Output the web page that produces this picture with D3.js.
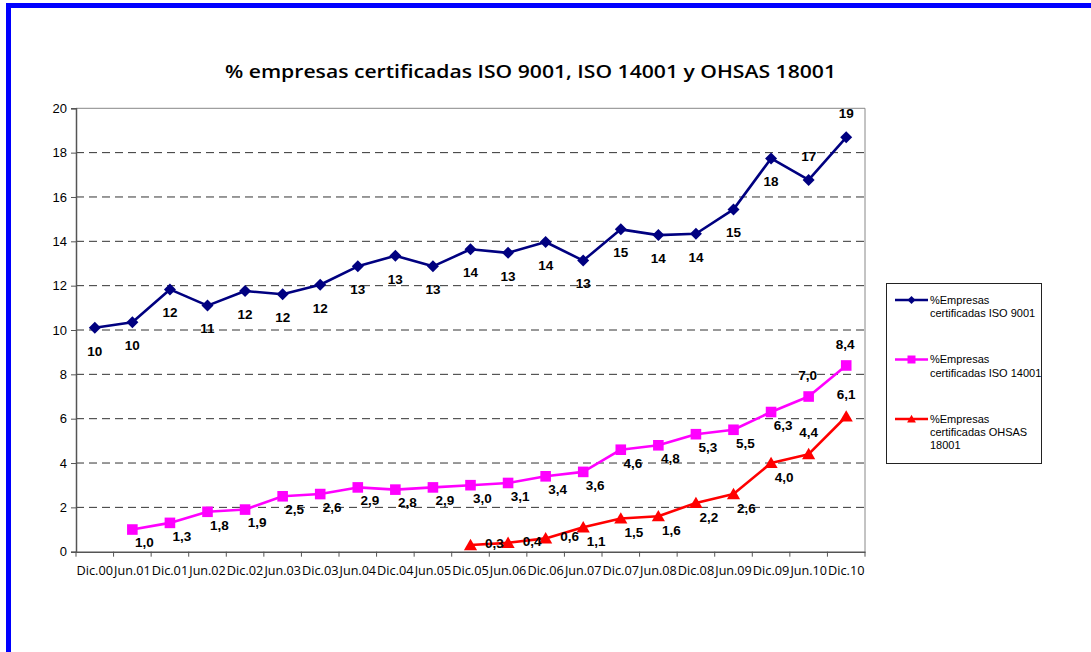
<!DOCTYPE html>
<html>
<head>
<meta charset="utf-8">
<script src="https://cdn.jsdelivr.net/npm/d3@7"></script>
<style>
  html, body { margin: 0; padding: 0; background: #fff; }
  svg { display: block; }
</style>
</head>
<body>
<svg id="chart" width="1091" height="652"></svg>
<script>
// ---- DATA ----
const categories = ["Dic.00","Jun.01","Dic.01","Jun.02","Dic.02","Jun.03","Dic.03","Jun.04","Dic.04","Jun.05",
                    "Dic.05","Jun.06","Dic.06","Jun.07","Dic.07","Jun.08","Dic.08","Jun.09","Dic.09","Jun.10","Dic.10"];
const iso9001Values = [10.1, 10.35, 11.83, 11.1, 11.76, 11.61, 12.04, 12.87, 13.35, 12.87,
                       13.64, 13.48, 13.97, 13.13, 14.54, 14.28, 14.34, 15.44, 17.74, 16.77, 18.69];
const iso9001Start = 0;
const iso14001Values = [1.0, 1.3, 1.8, 1.9, 2.5, 2.6, 2.9, 2.8, 2.9, 3.0, 3.1, 3.4, 3.6, 4.6, 4.8, 5.3, 5.5, 6.3, 7.0, 8.4];
const iso14001Start = 1;
const ohsasValues = [0.3, 0.4, 0.6, 1.1, 1.5, 1.6, 2.2, 2.6, 4.0, 4.4, 6.1];
const ohsasStart = 10;
const yTicks = [0, 2, 4, 6, 8, 10, 12, 14, 16, 18, 20];
const titleText = "% empresas certificadas ISO 9001, ISO 14001 y OHSAS 18001";
const legendLabels = [["%Empresas", "certificadas ISO 9001"], ["%Empresas", "certificadas ISO 14001"], ["%Empresas", "certificadas OHSAS", "18001"]];
// label placement flags (category names whose label sits above the point)
const iso9001Above = ["Jun.10", "Dic.10"];
const iso14001Above = ["Jun.10", "Dic.10"];
const ohsasAbove = ["Jun.10", "Dic.10"];

// ---- SETUP ----
const svg = d3.select("#chart");
const plot = { left: 76, right: 865, top: 108.3, bottom: 551.7 };

const x = d3.scaleBand().domain(categories).range([plot.left, plot.right]).padding(0);
const y = d3.scaleLinear().domain([0, 20]).range([plot.bottom, plot.top]);
const cx = c => x(c) + x.bandwidth() / 2;

const locale = d3.formatLocale({ decimal: ",", thousands: ".", grouping: [3], currency: ["", "€"] });
const fmt1 = locale.format(".1f");
const fmt0 = locale.format(".0f");

// blue frame
svg.append("rect").attr("x", 8.5).attr("y", 5.5).attr("width", 1200).attr("height", 1000)
  .attr("fill", "none").attr("stroke", "#0000ff").attr("stroke-width", 5);

// title
svg.append("text").attr("x", 530.5).attr("y", 78).attr("text-anchor", "middle")
  .attr("font-family", "'Open Sans', sans-serif").attr("font-weight", 600).attr("font-size", 17.5)
  .attr("textLength", 611).attr("lengthAdjust", "spacingAndGlyphs")
  .text(titleText);

// gridlines
svg.append("g").selectAll("line").data(yTicks.filter(t => t > 0 && t < 20)).join("line")
  .attr("x1", plot.left).attr("x2", plot.right)
  .attr("y1", d => y(d)).attr("y2", d => y(d))
  .attr("stroke", "#333").attr("stroke-width", 1).attr("stroke-dasharray", "8,5");

// top & right border
svg.append("line").attr("x1", plot.left).attr("x2", plot.right).attr("y1", plot.top).attr("y2", plot.top)
  .attr("stroke", "#888").attr("stroke-width", 1);
svg.append("line").attr("x1", plot.right).attr("x2", plot.right).attr("y1", plot.top).attr("y2", plot.bottom)
  .attr("stroke", "#888").attr("stroke-width", 1);

// y axis
const yAxis = d3.axisLeft(y).tickValues(yTicks).tickSize(5).tickPadding(4).tickFormat(d3.format("d"));
const gy = svg.append("g").attr("transform", `translate(${plot.left},0)`).call(yAxis);
gy.select(".domain").attr("stroke", "#555").attr("stroke-width", 1.5);
gy.selectAll(".tick line").attr("stroke", "#555");
gy.selectAll(".tick text").attr("font-family", "'Liberation Sans', Arial, sans-serif").attr("font-size", 13).attr("fill", "#000");

// x axis
const xAxis = d3.axisBottom(x).tickSize(0).tickPadding(15);
const gx = svg.append("g").attr("transform", `translate(0,${plot.bottom})`).call(xAxis);
gx.select(".domain").attr("stroke", "#555").attr("stroke-width", 1.5);
gx.selectAll(".tick text").attr("font-family", "'Open Sans', sans-serif").attr("font-size", 12).attr("fill", "#000")
  .attr("textLength", 36.5).attr("lengthAdjust", "spacingAndGlyphs");
const boundaries = categories.map(c => x(c)).concat([plot.right]);
gx.append("g").selectAll("line").data(boundaries).join("line")
  .attr("x1", d => d).attr("x2", d => d).attr("y1", 0).attr("y2", 5)
  .attr("stroke", "#555").attr("stroke-width", 1);

// markers
const diamond = s => `M0,${-s}L${s},0L0,${s}L${-s},0Z`;
const square = s => `M${-s},${-s}H${s}V${s}H${-s}Z`;
const triangle = s => `M0,${-s * 1.05}L${s * 1.1},${s * 0.85}L${-s * 1.1},${s * 0.85}Z`;

const series = [
  { values: iso9001Values, start: iso9001Start, color: "#000080", shape: diamond, size: 6, above: iso9001Above,
    fmt: fmt0, below: [0, 23], up: [0, -24] },
  { values: iso14001Values, start: iso14001Start, color: "#ff00ff", shape: square, size: 5.3, above: iso14001Above,
    fmt: fmt1, below: [12, 13], up: [-1, -21] },
  { values: ohsasValues, start: ohsasStart, color: "#ff0000", shape: triangle, size: 6, above: ohsasAbove,
    fmt: fmt1, below: [13, 14], up: [0, -22] }
];

const line = d3.line().x(d => cx(d.cat)).y(d => y(d.v));

// label offset rule: above for flagged points; to the right when a below label would hit the x axis
function labelOffset(s, d) {
  if (s.above.includes(d.cat)) return s.up;
  if (y(d.v) + s.below[1] > plot.bottom - 6) return [24, -2];
  return s.below;
}

series.forEach(s => {
  const pts = s.values.map((v, i) => ({ cat: categories[i + s.start], v }));
  const g = svg.append("g");
  g.append("path").datum(pts).attr("d", line).attr("fill", "none")
    .attr("stroke", s.color).attr("stroke-width", 2.6).attr("stroke-linejoin", "round");
  g.selectAll("path.m").data(pts).join("path").attr("class", "m")
    .attr("transform", d => `translate(${cx(d.cat)},${y(d.v)})`)
    .attr("d", s.shape(s.size)).attr("fill", s.color);
  g.selectAll("text").data(pts).join("text")
    .attr("x", d => cx(d.cat) + labelOffset(s, d)[0])
    .attr("y", d => y(d.v) + labelOffset(s, d)[1])
    .attr("dy", "0.36em").attr("text-anchor", "middle")
    .attr("font-family", "'Liberation Sans', Arial, sans-serif").attr("font-weight", "bold").attr("font-size", 13.5)
    .attr("fill", "#000")
    .text(d => s.fmt(d.v));
});

// legend
const lg = svg.append("g");
lg.append("rect").attr("x", 886.5).attr("y", 283.5).attr("width", 155).attr("height", 180)
  .attr("fill", "#fff").attr("stroke", "#222").attr("stroke-width", 1);
const legendRows = [300, 359.5, 419];
series.forEach((s, i) => {
  const ly = legendRows[i];
  lg.append("line").attr("x1", 895).attr("x2", 928).attr("y1", ly).attr("y2", ly)
    .attr("stroke", s.color).attr("stroke-width", 2.6);
  lg.append("path").attr("transform", `translate(911.5,${ly})`).attr("d", s.shape(4)).attr("fill", s.color);
  legendLabels[i].forEach((t, j) => {
    lg.append("text").attr("x", 930).attr("y", ly + j * 13.3).attr("dy", "0.35em")
      .attr("font-family", "'Liberation Sans', Arial, sans-serif").attr("font-size", 11).attr("fill", "#000")
      .text(t);
  });
});
</script>
</body>
</html>
